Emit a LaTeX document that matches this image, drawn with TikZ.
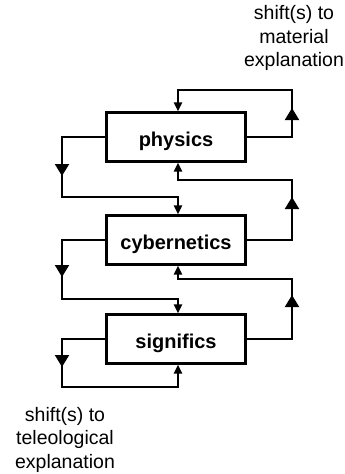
\documentclass[tikz,border=0pt]{standalone}
\usepackage{fontspec}
\setmainfont{Liberation Sans}
\usetikzlibrary{arrows.meta}
\begin{document}
\begin{tikzpicture}[x=1pt,y=-1pt,
  line width=2pt,
  box/.style={draw, line width=2.2pt, minimum width=139pt, minimum height=49pt, inner sep=0pt, text height=18pt, text depth=0pt, font=\fontsize{20}{24}\selectfont\bfseries},
  lbl/.style={align=center, inner sep=0pt, font=\fontsize{19.5}{23.5}\selectfont},
  conn/.style={-{Triangle[width=8pt,length=9pt]}},
  bigtip/.style={-{Triangle[width=14pt,length=12pt]}}
]
\useasboundingbox (0,0) rectangle (345,474);

\node[box] (phys) at (176,137) {physics};
\node[box] (cyb) at (176,240) {cybernetics};
\node[box] (sig) at (176,339) {significs};

% top loop (physics -> physics)
\coordinate (a1) at (292,137);
\coordinate (a2) at (292,90);
\coordinate (a3) at (178,90);
\coordinate (aT) at (292,108);
\draw[conn] (phys.east) -- (a1) -- (a2) -- (a3) -- ([xshift=2pt]phys.north);
\draw[bigtip] (a1) -- (aT);

% physics -> cybernetics (left)
\coordinate (b1) at (62,137);
\coordinate (b2) at (62,197);
\coordinate (b3) at (178,197);
\coordinate (bT) at (62,176);
\draw[conn] (phys.west) -- (b1) -- (b2) -- (b3) -- ([xshift=2pt]cyb.north);
\draw[bigtip] (b1) -- (bT);

% cybernetics -> physics (right)
\coordinate (c1) at (292,240);
\coordinate (c2) at (292,180);
\coordinate (c3) at (178,180);
\coordinate (cT) at (292,197);
\draw[conn] (cyb.east) -- (c1) -- (c2) -- (c3) -- ([xshift=2pt]phys.south);
\draw[bigtip] (c1) -- (cT);

% cybernetics -> significs (left)
\coordinate (d1) at (62,240);
\coordinate (d2) at (62,299);
\coordinate (d3) at (178,299);
\coordinate (dT) at (62,277);
\draw[conn] (cyb.west) -- (d1) -- (d2) -- (d3) -- ([xshift=2pt]sig.north);
\draw[bigtip] (d1) -- (dT);

% significs -> cybernetics (right)
\coordinate (e1) at (292,339);
\coordinate (e2) at (292,279);
\coordinate (e3) at (178,279);
\coordinate (eT) at (292,295);
\draw[conn] (sig.east) -- (e1) -- (e2) -- (e3) -- ([xshift=2pt]cyb.south);
\draw[bigtip] (e1) -- (eT);

% bottom loop (significs -> significs)
\coordinate (f1) at (62,339);
\coordinate (f2) at (62,387);
\coordinate (f3) at (178,387);
\coordinate (fT) at (62,367);
\draw[conn] (sig.west) -- (f1) -- (f2) -- (f3) -- ([xshift=2pt]sig.south);
\draw[bigtip] (f1) -- (fT);

\node[lbl, anchor=north] (mat) at (294,4.5) {shift(s) to\\material\\explanation};
\node[lbl, anchor=north] (tel) at (65,406) {shift(s) to\\teleological\\explanation};
\end{tikzpicture}
\end{document}
